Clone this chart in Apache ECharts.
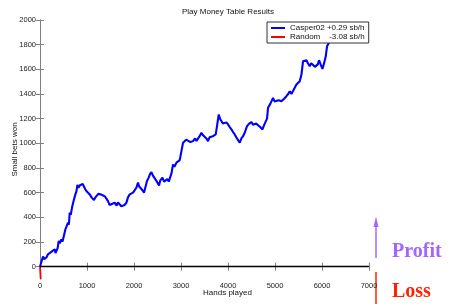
<!DOCTYPE html>
<html>
<head>
<meta charset="utf-8">
<script src="https://cdn.jsdelivr.net/npm/echarts@6/dist/echarts.min.js"></script>
<style>
  html, body { margin: 0; padding: 0; background: #fff; }
  #main { width: 449px; height: 304px; }
</style>
</head>
<body>
<div id="main"></div>
<script type="text/javascript">
// hands played / small bets won
var casperHands = [0, 30, 64, 90, 136, 170, 206, 240, 277, 313, 330, 349, 375, 398, 420, 455, 480, 511, 541, 565,
  596, 615, 632, 655, 681, 700, 724, 740, 753, 775, 796, 820, 850, 881, 910, 936, 960, 987, 1020, 1058,
  1100, 1130, 1149, 1175, 1200, 1240, 1270, 1300, 1341, 1380, 1413, 1450, 1480, 1505, 1540, 1560, 1590, 1630, 1660, 1696,
  1730, 1766, 1800, 1839, 1870, 1909, 1950, 1980, 2015, 2050, 2085, 2110, 2143, 2180, 2213, 2240, 2277, 2310, 2340, 2371,
  2400, 2441, 2470, 2500, 2532, 2560, 2605, 2640, 2675, 2710, 2740, 2775, 2800, 2830, 2860, 2903, 2940, 2973, 3000, 3043,
  3080, 3110, 3150, 3200, 3256, 3300, 3330, 3362, 3400, 3435, 3470, 3505, 3540, 3575, 3610, 3647, 3690, 3739, 3770, 3803,
  3830, 3860, 3890, 3930, 3965, 4001, 4040, 4073, 4110, 4143, 4190, 4220, 4250, 4285, 4320, 4360, 4405, 4450, 4499, 4530,
  4569, 4600, 4639, 4690, 4733, 4770, 4803, 4830, 4852, 4900, 4958, 4990, 5031, 5080, 5137, 5190, 5243, 5280, 5314, 5350,
  5384, 5420, 5456, 5490, 5526, 5563, 5597, 5630, 5669, 5700, 5739, 5770, 5809, 5850, 5882, 5910, 5937, 5970, 6010, 6045,
  6080, 6107, 6165, 6201, 6229];
var casperWon = [0, 40, 82, 60, 74, 100, 93, 120, 114, 141, 110, 119, 150, 208, 190, 222, 205, 216, 303, 290,
  357, 340, 438, 420, 479, 470, 546, 530, 586, 610, 662, 640, 660, 649, 670, 659, 630, 613, 600, 586,
  560, 575, 540, 560, 572, 590, 605, 585, 594, 570, 551, 530, 500, 487, 510, 495, 519, 495, 520, 505,
  490, 479, 500, 519, 560, 586, 570, 600, 594, 640, 681, 650, 640, 620, 600, 640, 694, 720, 750, 767,
  740, 734, 700, 690, 659, 700, 721, 690, 681, 710, 690, 702, 760, 829, 810, 843, 830, 864, 880, 1005,
  1000, 1030, 1026, 1010, 1018, 1040, 1020, 1032, 1060, 1086, 1065, 1058, 1040, 1018, 1050, 1064, 1060, 1072, 1150, 1234,
  1200, 1194, 1160, 1145, 1170, 1153, 1130, 1113, 1090, 1072, 1040, 1030, 1005, 1040, 1058, 1090, 1139, 1160, 1172, 1150,
  1139, 1160, 1153, 1130, 1113, 1150, 1139, 1200, 1288, 1320, 1369, 1340, 1329, 1350, 1342, 1360, 1382, 1400, 1423, 1400,
  1396, 1450, 1477, 1480, 1504, 1558, 1666, 1680, 1674, 1650, 1625, 1650, 1639, 1620, 1604, 1640, 1674, 1640, 1604, 1650,
  1706, 1787, 1828, 1868, 1963];
var randomHands = [0, 15];
var randomWon = [0, -100];
var seriesNames = ['Casper02 +0.29 sb/h', 'Random    -3.08 sb/h'];
var yTicks = [0, 200, 400, 600, 800, 1000, 1200, 1400, 1600, 1800, 2000];

function pairs(xs, ys) {
  return xs.map(function (x, i) { return [x, ys[i]]; });
}

var font = 'Liberation Sans, Arial, sans-serif';
var lineGray = { show: true, lineStyle: { color: '#808080', width: 1 } };
var tickGray = { show: true, inside: true, length: 4, lineStyle: { color: '#808080' } };
function plain(v) { return String(v); }

var myChart = echarts.init(document.getElementById('main'), null, { renderer: 'canvas' });
var option = {
  animation: false,
  backgroundColor: '#fff',
  title: {
    text: 'Play Money Table Results',
    left: 182, top: 8, padding: 0,
    textStyle: { fontFamily: font, fontSize: 8, fontWeight: 'normal', color: '#111' }
  },
  legend: {
    left: 267, top: 22,
    orient: 'vertical',
    backgroundColor: '#fff',
    borderColor: '#333', borderWidth: 1,
    padding: [2, 4, 2, 4],
    itemGap: 1,
    itemWidth: 14, itemHeight: 2,
    icon: 'rect',
    textStyle: { fontFamily: font, fontSize: 8, color: '#111' },
    data: seriesNames
  },
  grid: { left: 40, right: 80, top: 20, bottom: 25, show: false, outerBoundsMode: 'none', containLabel: false },
  xAxis: [
    {
      type: 'value', min: 0, max: 7000, interval: 1000,
      name: 'Hands played', nameLocation: 'middle', nameGap: 10, nameMoveOverlap: false,
      nameTextStyle: { fontFamily: font, fontSize: 8, color: '#111', padding: [0, 0, 0, 46] },
      axisLine: lineGray, axisTick: tickGray, splitLine: { show: false },
      axisLabel: { fontFamily: font, fontSize: 7.5, color: '#222', margin: 3, formatter: plain }
    },
    {
      type: 'value', min: 0, max: 7000, interval: 1000, position: 'top',
      axisLine: lineGray, axisTick: tickGray, splitLine: { show: false },
      axisLabel: { show: false }
    }
  ],
  yAxis: [
    {
      type: 'value', min: -100, max: 2000,
      name: 'Small bets won', nameLocation: 'middle', nameGap: 21, nameMoveOverlap: false,
      nameTextStyle: { fontFamily: font, fontSize: 8, color: '#111' },
      axisLine: lineGray, splitLine: { show: false },
      axisLabel: { fontFamily: font, fontSize: 7.5, color: '#222', margin: 4, customValues: yTicks, formatter: plain },
      axisTick: Object.assign({ customValues: yTicks }, tickGray)
    },
    {
      type: 'value', min: -100, max: 2000, position: 'right',
      axisLine: lineGray, splitLine: { show: false },
      axisLabel: { show: false },
      axisTick: Object.assign({ customValues: yTicks }, tickGray)
    }
  ],
  series: [
    {
      name: seriesNames[0],
      type: 'line',
      data: pairs(casperHands, casperWon),
      showSymbol: false,
      lineStyle: { color: '#0000ff', width: 2.1 },
      itemStyle: { color: '#0000ff' },
      z: 3,
      markLine: {
        silent: true, symbol: 'none', label: { show: false },
        lineStyle: { color: '#000', width: 1.3, type: 'solid' },
        data: [{ yAxis: 0 }]
      }
    },
    {
      name: seriesNames[1],
      type: 'line',
      data: pairs(randomHands, randomWon),
      showSymbol: false,
      clip: true,
      lineStyle: { color: '#ff0000', width: 1.8 },
      itemStyle: { color: '#ff0000' },
      z: 2
    }
  ],
  graphic: [
    { type: 'line', shape: { x1: 376, y1: 258, x2: 376, y2: 224 }, style: { stroke: '#a366ff', lineWidth: 1.5 } },
    { type: 'polygon', shape: { points: [[376, 216.5], [373.5, 227], [378.5, 227]] }, style: { fill: '#a366ff' } },
    { type: 'text', x: 392, y: 252, style: { text: 'Profit', fill: '#a366ff', font: 'bold 20px "Liberation Serif", serif', verticalAlign: 'middle' } },
    { type: 'line', shape: { x1: 376, y1: 272, x2: 376, y2: 304 }, style: { stroke: '#ff2200', lineWidth: 1.5 } },
    { type: 'text', x: 392, y: 292, style: { text: 'Loss', fill: '#ff2200', font: 'bold 20px "Liberation Serif", serif', verticalAlign: 'middle' } }
  ]
};
myChart.setOption(option);
</script>
</body>
</html>
